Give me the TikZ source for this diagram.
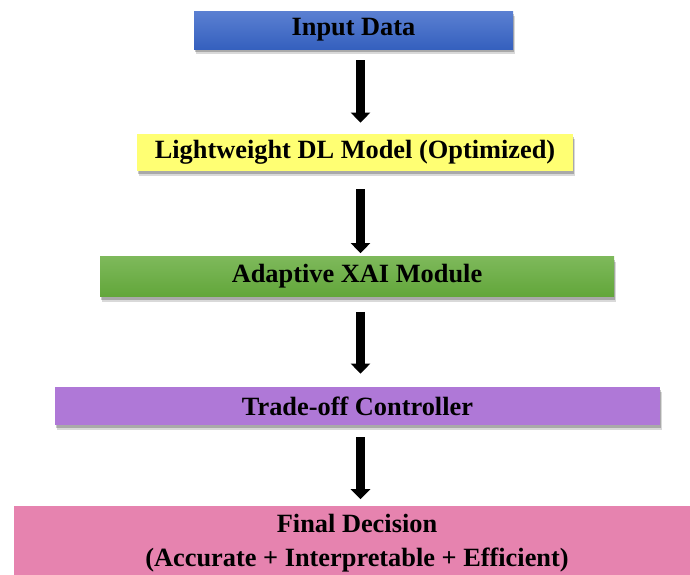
\documentclass[tikz,border=0pt]{standalone}
\usepackage{fontspec}
\setmainfont{Liberation Serif}
\usetikzlibrary{arrows.meta,shadows}

\definecolor{inTop}{HTML}{5B80D2}
\definecolor{inBot}{HTML}{3560BE}
\definecolor{dlFill}{HTML}{FFFF73}
\definecolor{xaiTop}{HTML}{7EB95B}
\definecolor{xaiBot}{HTML}{62A63A}
\definecolor{tocFill}{HTML}{AF78D7}
\definecolor{finFill}{HTML}{E683AF}

\tikzset{
  stagebox/.style={rectangle, inner sep=0pt, align=center,
    font=\fontsize{15}{17}\selectfont\bfseries,
    general shadow={shadow xshift=1.2pt, shadow yshift=-3pt, fill=black, opacity=0.15},
    general shadow={shadow xshift=0.6pt, shadow yshift=-1.8pt, fill=black, opacity=0.22}},
  flowarrow/.style={line width=5.1pt, -{Triangle[width=10.8pt,length=5.7pt]}}
}

\begin{document}
\begin{tikzpicture}
\useasboundingbox (0,0) rectangle (13.8,-11.48);

%% Stages (1px = 0.02cm)
\node[stagebox, top color=inTop, bottom color=inBot, minimum width=6.38cm, minimum height=0.76cm]
  (in) at (7.07,-0.60) {Input Data};
\node[stagebox, fill=dlFill, minimum width=8.72cm, minimum height=0.74cm]
  (dl) at (7.10,-3.05) {Lightweight DL Model (Optimized)};
\node[stagebox, top color=xaiTop, bottom color=xaiBot, minimum width=10.28cm, minimum height=0.80cm]
  (xai) at (7.14,-5.53) {Adaptive XAI Module};
\node[stagebox, fill=tocFill, minimum width=12.10cm, minimum height=0.76cm]
  (toc) at (7.15,-8.12) {Trade-off Controller};
\node[stagebox, fill=finFill, minimum width=13.72cm, inner ysep=5pt]
  (fin) at (7.14,-10.86) {Final Decision\\[2pt](Accurate + Interpretable + Efficient)};

%% Arrows down the common axis
\coordinate (axis) at (7.21,0);
\draw[flowarrow, shorten <=0.22cm, shorten >=0.22cm] (in.south -| axis) -- (dl.north -| axis);
\draw[flowarrow, shorten <=0.36cm, shorten >=0.06cm] (dl.south -| axis) -- (xai.north -| axis);
\draw[flowarrow, shorten <=0.30cm, shorten >=0.26cm] (xai.south -| axis) -- (toc.north -| axis);
\draw[flowarrow, shorten <=0.24cm, shorten >=0.12cm] (toc.south -| axis) -- (fin.north -| axis);

\end{tikzpicture}
\end{document}
